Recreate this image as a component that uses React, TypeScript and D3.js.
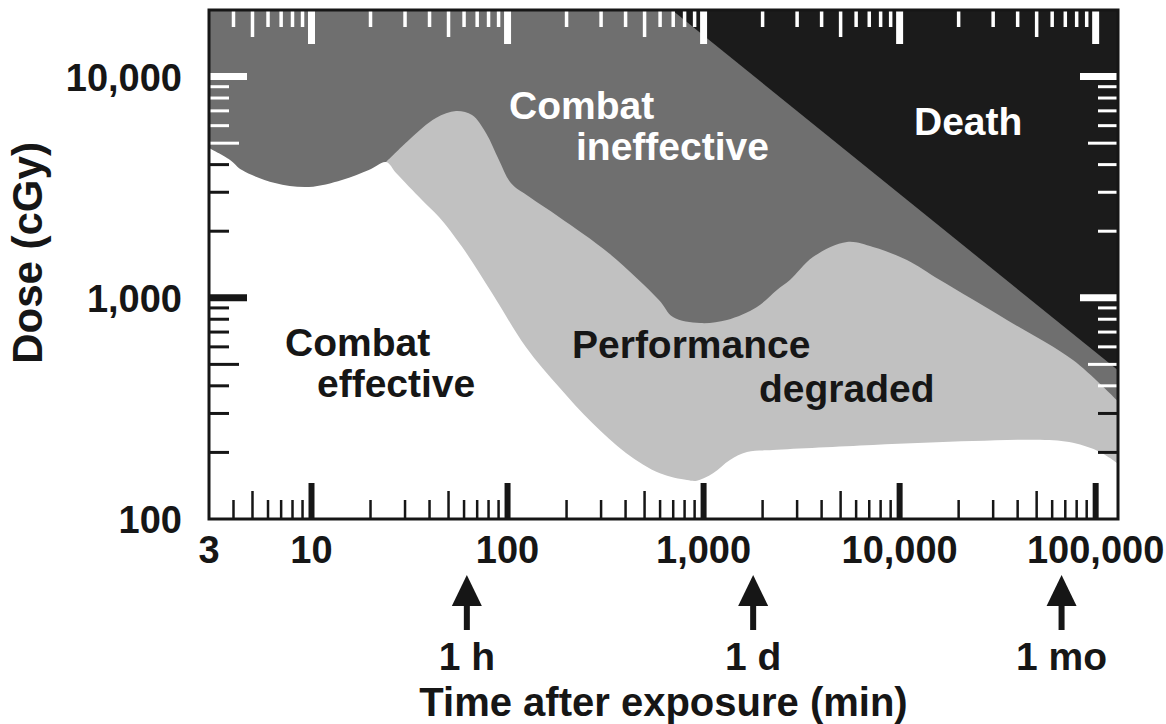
import { useEffect, useRef } from 'react';
import * as d3 from 'd3';

// Colors
const C_MID = "#6f6f6f";     // combat ineffective
const C_LIGHT = "#c1c1c1";   // performance degraded
const C_DEATH = "#1b1b1b";   // death
const C_INK = "#161616";     // text / axes
const FONT = "'Liberation Sans', Arial, Helvetica, sans-serif";

const W = 1166;
const H = 724;
const PLOT = { left: 209, right: 1118, top: 10, bottom: 519 };

// Axes (minutes, cGy)
const X_DOMAIN = [3, 130000];
const Y_DOMAIN = [100, 20000];
const X_LABELS = [3, 10, 100, 1000, 10000, 100000];
const Y_LABELS = [100, 1000, 10000];

// Markers under the time axis (positions)
const MARKER_MIN = [62, 1790, 67000];
const MARKER_TEXT = ["1 h", "1 d", "1 mo"];

// Upper edge of the white "Combat effective" region
const effectiveX = [3, 3.84, 4.42, 6.51, 9.71, 14.3, 19.6, 24.0, 27.0, 36.6, 44.7, 58.6, 83.3, 124, 183, 270, 402, 599, 823, 925, 1117, 1363, 1665, 2259, 7312, 23660, 52000, 76600, 105000, 130000];
const effectiveDose = [4750, 4200, 3780, 3300, 3170, 3410, 3780, 4110, 3670, 2770, 2320, 1700, 1051, 599, 395, 272, 199, 161, 150, 149, 161, 185, 201, 205, 216, 225, 228, 221, 201, 178];

// Upper edge of the light grey "Performance degraded" band
const degradedX = [24.0, 31.4, 43.1, 54.6, 65.9, 77.6, 90.4, 104, 129, 183, 329, 592, 698, 959, 1316, 1872, 2367, 2758, 3613, 5387, 7312, 10900, 16060, 35280, 76600, 130000];
const degradedDose = [4110, 5170, 6500, 6990, 6700, 5560, 4200, 3300, 2860, 2320, 1590, 977, 819, 769, 794, 909, 1085, 1203, 1529, 1788, 1697, 1482, 1203, 794, 523, 340];

// Lower edge of the black "Death" region
const deathX = [690, 130000];
const deathDose = [20000, 470];

export default function App() {
  const ref = useRef<SVGSVGElement>(null);

  useEffect(() => {
    if (!ref.current) return;
    const svg = d3.select(ref.current);
    svg.selectAll("*").remove();

    const x = d3.scaleLog().domain(X_DOMAIN).range([PLOT.left, PLOT.right]);
    const y = d3.scaleLog().domain(Y_DOMAIN).range([PLOT.bottom, PLOT.top]);

    svg.append("defs").append("clipPath").attr("id", "plot-clip")
      .append("rect")
      .attr("x", PLOT.left).attr("y", PLOT.top)
      .attr("width", PLOT.right - PLOT.left)
      .attr("height", PLOT.bottom - PLOT.top);

    const plot = svg.append("g").attr("clip-path", "url(#plot-clip)");

    // background = combat ineffective
    plot.append("rect")
      .attr("x", PLOT.left).attr("y", PLOT.top)
      .attr("width", PLOT.right - PLOT.left)
      .attr("height", PLOT.bottom - PLOT.top)
      .attr("fill", C_MID);

    const areaBelow = (xs: number[], ys: number[]) =>
      d3.area<number>()
        .x((i) => x(xs[i]))
        .y0(PLOT.bottom)
        .y1((i) => y(ys[i]))
        .curve(d3.curveCatmullRom.alpha(0.5))(d3.range(xs.length));

    plot.append("path")
      .attr("d", areaBelow(degradedX, degradedDose))
      .attr("fill", C_LIGHT);

    plot.append("path")
      .attr("d", areaBelow(effectiveX, effectiveDose))
      .attr("fill", "#ffffff");

    const deathArea = d3.area<number>()
      .x((i) => x(deathX[i]))
      .y0(PLOT.top)
      .y1((i) => y(deathDose[i]));
    plot.append("path")
      .attr("d", deathArea(d3.range(deathX.length)))
      .attr("fill", C_DEATH);

    // tick classification
    const kind = (v: number) => {
      const lead = v / Math.pow(10, Math.floor(Math.log10(v) + 1e-9));
      if (Math.abs(lead - 1) < 1e-6) return "major";
      if (Math.abs(lead - 5) < 1e-6) return "mid";
      return "minor";
    };

    const xTicks = x.ticks().filter((v) => v > X_DOMAIN[0] && v <= 100000);
    const yTicks = y.ticks().filter((v) => v > Y_DOMAIN[0] && v < Y_DOMAIN[1]);

    const ticks = svg.append("g");

    // bottom (black) and top (white)
    xTicks.forEach((v) => {
      const k = kind(v);
      const px = x(v);
      ticks.append("line")
        .attr("x1", px).attr("x2", px)
        .attr("y1", PLOT.bottom)
        .attr("y2", PLOT.bottom - (k === "major" ? 36 : k === "mid" ? 28 : 19))
        .attr("stroke", C_INK)
        .attr("stroke-width", k === "major" ? 6 : 2.5);
      ticks.append("line")
        .attr("x1", px).attr("x2", px)
        .attr("y1", PLOT.top)
        .attr("y2", PLOT.top + (k === "major" ? 34 : k === "mid" ? 27 : 17))
        .attr("stroke", "#ffffff")
        .attr("stroke-width", k === "major" ? 7 : 3.5);
    });

    // left and right, white where the background is dark
    yTicks.forEach((v) => {
      const k = kind(v);
      const py = y(v);
      const len = k === "major" ? 38 : k === "mid" ? 30 : 20;
      const sw = k === "major" ? 7 : 3;
      ticks.append("line")
        .attr("x1", PLOT.left).attr("x2", PLOT.left + len)
        .attr("y1", py).attr("y2", py)
        .attr("stroke", v > effectiveDose[0] ? "#ffffff" : C_INK)
        .attr("stroke-width", sw);
      ticks.append("line")
        .attr("x1", PLOT.right).attr("x2", PLOT.right - len)
        .attr("y1", py).attr("y2", py)
        .attr("stroke", v > degradedDose[degradedDose.length - 1] ? "#ffffff" : C_INK)
        .attr("stroke-width", sw);
    });

    // frame
    svg.append("rect")
      .attr("x", PLOT.left).attr("y", PLOT.top)
      .attr("width", PLOT.right - PLOT.left)
      .attr("height", PLOT.bottom - PLOT.top)
      .attr("fill", "none")
      .attr("stroke", C_INK)
      .attr("stroke-width", 3);

    const text = svg.append("g")
      .attr("font-family", FONT)
      .attr("font-weight", "bold");

    // tick labels
    const fmt = d3.format(",");
    text.selectAll("text.xl")
      .data(X_LABELS)
      .join("text")
      .attr("class", "xl")
      .attr("x", (d) => x(d))
      .attr("y", 563)
      .attr("text-anchor", "middle")
      .attr("font-size", 38)
      .attr("fill", C_INK)
      .text((d) => fmt(d));

    text.selectAll("text.yl")
      .data(Y_LABELS)
      .join("text")
      .attr("class", "yl")
      .attr("x", 182)
      .attr("y", (d) => y(d) + 14)
      .attr("text-anchor", "end")
      .attr("font-size", 38)
      .attr("fill", C_INK)
      .text((d) => fmt(d));

    // axis titles
    text.append("text")
      .attr("transform", "translate(42,253) rotate(-90)")
      .attr("text-anchor", "middle")
      .attr("font-size", 42)
      .attr("fill", C_INK)
      .text("Dose (cGy)");

    text.append("text")
      .attr("x", (PLOT.left + PLOT.right) / 2)
      .attr("y", 716)
      .attr("text-anchor", "middle")
      .attr("font-size", 40)
      .attr("fill", C_INK)
      .text("Time after exposure (min)");

    // time markers
    MARKER_MIN.forEach((m, i) => {
      const px = x(m);
      svg.append("path")
        .attr("d", `M${px},575 L${px + 15},606 L${px - 15},606 Z`)
        .attr("fill", C_INK);
      svg.append("rect")
        .attr("x", px - 3).attr("y", 604)
        .attr("width", 6).attr("height", 26)
        .attr("fill", C_INK);
      text.append("text")
        .attr("x", px)
        .attr("y", 670)
        .attr("text-anchor", "middle")
        .attr("font-size", 39)
        .attr("fill", C_INK)
        .text(MARKER_TEXT[i]);
    });

    // region labels
    const regionLabels = [
      { t: "Combat", px: 285, py: 356, c: C_INK },
      { t: "effective", px: 317, py: 397, c: C_INK },
      { t: "Combat", px: 509, py: 119, c: "#ffffff" },
      { t: "ineffective", px: 576, py: 160, c: "#ffffff" },
      { t: "Death", px: 914, py: 135, c: "#ffffff" },
      { t: "Performance", px: 572, py: 358, c: C_INK },
      { t: "degraded", px: 759, py: 402, c: C_INK },
    ];
    regionLabels.forEach((l) => {
      text.append("text")
        .attr("x", l.px)
        .attr("y", l.py)
        .attr("font-size", 39)
        .attr("fill", l.c)
        .text(l.t);
    });
  }, []);

  return (
    <div style={{ position: 'absolute', left: 0, top: 0, width: W, height: H, background: '#ffffff' }}>
      <svg ref={ref} width={W} height={H} style={{ display: 'block' }} />
    </div>
  );
}
